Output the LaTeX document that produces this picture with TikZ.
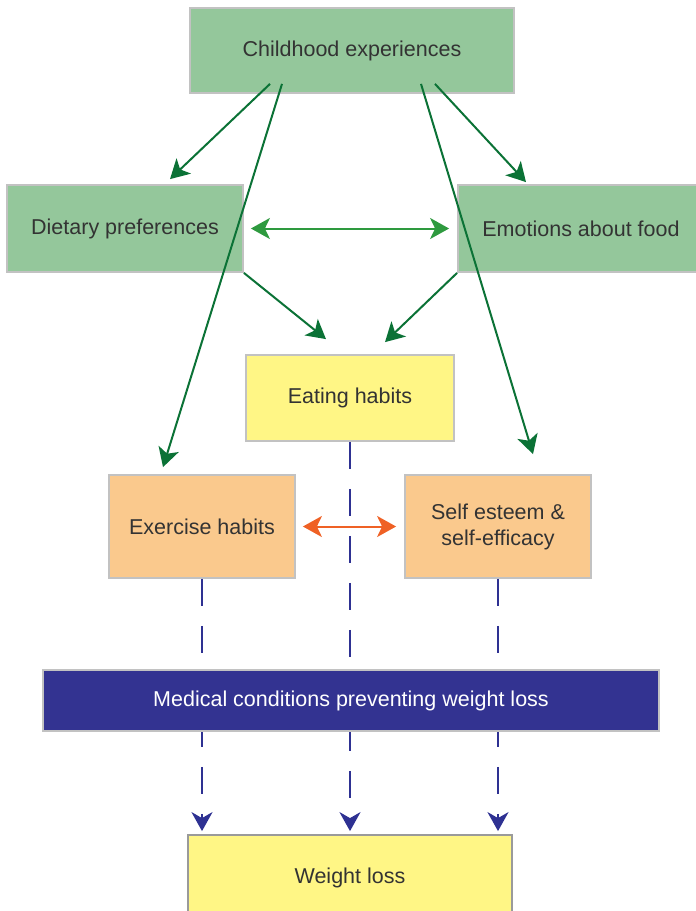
\documentclass[tikz,border=0pt]{standalone}
\usepackage{fontspec}
\setmainfont{Liberation Sans}
\usepackage{tikz}
\usetikzlibrary{arrows.meta}
\definecolor{boxGreen}{HTML}{94C79B}
\definecolor{boxYellow}{HTML}{FFF685}
\definecolor{boxOrange}{HTML}{FAC98D}
\definecolor{boxNavy}{HTML}{333391}
\definecolor{edgeGray}{HTML}{C2C2C2}
\definecolor{edgeDark}{HTML}{9A9A9A}
\definecolor{textGray}{HTML}{333333}
\definecolor{arrGreen}{HTML}{0B7236}
\definecolor{arrLight}{HTML}{2E9A3F}
\definecolor{arrOrange}{HTML}{EF6125}
\definecolor{arrNavy}{HTML}{2E3192}
\tikzset{
  cause/.style={rectangle,draw=edgeGray,line width=1.8pt,fill=boxGreen,
    minimum width=236pt,minimum height=87pt,align=center,text=textGray,
    font=\fontsize{21.5}{26}\selectfont},
  habit/.style={rectangle,draw=edgeGray,line width=1.8pt,fill=boxYellow,
    minimum width=208pt,minimum height=86pt,align=center,text=textGray,
    font=\fontsize{21.5}{26}\selectfont},
  trait/.style={rectangle,draw=edgeGray,line width=1.8pt,fill=boxOrange,
    minimum width=186pt,minimum height=103pt,align=center,text=textGray,
    font=\fontsize{21.5}{26}\selectfont},
  barrier/.style={rectangle,draw=edgeGray,line width=1.8pt,fill=boxNavy,
    minimum width=616pt,minimum height=61pt,align=center,text=white,
    font=\fontsize{21.5}{26}\selectfont},
  outcome/.style={rectangle,draw=edgeDark,line width=1.8pt,fill=boxYellow,
    minimum width=324pt,minimum height=86pt,align=center,text=textGray,
    font=\fontsize{21.5}{26}\selectfont},
  arrow/.style={->,>={Stealth[length=19pt,width=21pt,inset=5pt]},
    line width=2pt,draw=arrGreen},
  twoway/.style={<->,>={Stealth[length=19pt,width=21pt,inset=5pt]},
    line width=2pt},
  dasharrow/.style={->,>={Stealth[length=19pt,width=21pt,inset=6pt]},
    line width=2.2pt,draw=arrNavy,dash pattern=on 27pt off 20pt,
    shorten >=3pt}
}
\begin{document}
\begin{tikzpicture}[x=1pt, y=-1pt, node distance=178pt]
\useasboundingbox (0,0) rectangle (696,911);
\node[cause, minimum width=324pt, minimum height=85pt] (child) at (352,50.5)
  {Childhood experiences};
\node[cause, below of=child, xshift=-227pt] (diet) {Dietary preferences};
\node[cause, below of=child, xshift=229pt, minimum width=246pt] (emot)
  {Emotions about food};
\node[habit, below of=diet, xshift=225pt, yshift=8.5pt] (eat) {Eating habits};
\node[trait, below of=eat, xshift=-148pt, yshift=49.5pt] (exer) {Exercise habits};
\node[trait, below of=eat, xshift=148pt, yshift=49.5pt] (self)
  {Self esteem \&\\ self-efficacy};
\node[outcome, below of=eat, yshift=-302pt] (wloss) {Weight loss};

% dashed paths run behind the medical box
\draw[dasharrow] (exer.south) -- (exer.south |- wloss.north);
\draw[dasharrow] (eat.south) -- (wloss.north);
\draw[dasharrow] (self.south) -- (self.south |- wloss.north);

\node[barrier, below of=eat, xshift=1pt, yshift=-124.5pt] (med)
  {Medical conditions preventing weight loss};

\draw[arrow] ([xshift=-82pt,yshift=10pt]child.south) -- ([xshift=45pt,yshift=5pt]diet.north);
\draw[arrow] ([xshift=-70pt,yshift=10pt]child.south) -- ([xshift=-39pt,yshift=7pt]exer.north);
\draw[arrow] ([xshift=69pt,yshift=10pt]child.south) -- ([xshift=35pt,yshift=20pt]self.north);
\draw[arrow] ([xshift=83pt,yshift=10pt]child.south) -- ([xshift=-55pt,yshift=2pt]emot.north);
\draw[twoway, draw=arrLight] ([xshift=7pt]diet.east) -- ([xshift=-8pt]emot.west);
\draw[arrow] (diet.south east) -- ([xshift=-24pt,yshift=15pt]eat.north);
\draw[arrow] (emot.south west) -- ([xshift=35pt,yshift=12pt]eat.north);
\draw[twoway, draw=arrOrange] ([xshift=7pt]exer.east) -- ([xshift=-8pt]self.west);
\end{tikzpicture}
\end{document}
